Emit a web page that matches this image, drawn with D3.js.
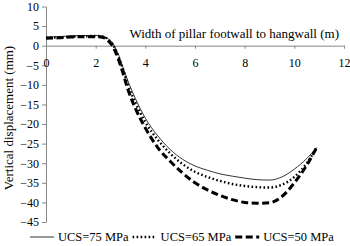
<!DOCTYPE html>
<html>
<head>
<meta charset="utf-8">
<script src="https://cdn.jsdelivr.net/npm/d3@7"></script>
<style>
  body { margin: 0; background: #fff; }
  svg text { font-family: "Liberation Serif", "Times New Roman", serif; fill: #000; }
</style>
</head>
<body>
<div id="chart"></div>
<script>
// width of pillar (m)
const xs = [0, 0.5, 1, 1.5, 2, 2.3, 2.5, 2.7, 2.9, 3.1, 3.3, 3.6, 4, 4.5, 5, 5.5, 6, 6.5, 7, 7.5, 8, 8.5, 9, 9.5, 10, 10.5, 10.9];
// vertical displacement (mm)
const ucs75 = [2.2, 2.3, 2.5, 2.6, 2.6, 2.4, 1.8, 0.5, -2, -5.5, -9, -13.5, -18.5, -23, -26.5, -29, -30.7, -31.8, -32.7, -33.3, -33.8, -34.2, -34.3, -33.5, -31.5, -28.8, -26];
const ucs65 = [2.0, 2.1, 2.3, 2.4, 2.5, 2.3, 1.6, 0.2, -2.5, -6, -10, -14.5, -19.5, -24, -27.5, -30.2, -32.2, -33.5, -34.5, -35.3, -35.8, -36.1, -36.2, -35.5, -33.5, -30, -26];
const ucs50 = [1.9, 2.0, 2.2, 2.3, 2.3, 2.1, 1.3, -0.3, -3.2, -7, -11.2, -16, -21, -26, -29.5, -32.5, -35, -36.8, -38.2, -39.3, -40, -40.2, -40.1, -38.5, -35, -30.5, -26];
const xTicks = [0, 2, 4, 6, 8, 10, 12];
const yTicks = [10, 5, 0, -5, -10, -15, -20, -25, -30, -35, -40, -45];
const seriesNames = ["UCS=75 MPa", "UCS=65 MPa", "UCS=50 MPa"];

const width = 350, height = 246;

const svg = d3.select("#chart").append("svg")
    .attr("width", width)
    .attr("height", height);

const x = d3.scaleLinear().domain([0, 12]).range([46, 344]);
const y = d3.scaleLinear().domain([-45, 10]).range([222, 6.5]);

// y axis
const yAxis = svg.append("g")
    .attr("transform", "translate(" + x(0) + ",0)")
    .call(d3.axisLeft(y).tickValues(yTicks).tickSize(4).tickPadding(3).tickSizeOuter(0));
yAxis.select(".domain").attr("stroke", "#888");
yAxis.selectAll(".tick line").attr("stroke", "#888");
yAxis.selectAll("text").style("font-size", "12px").attr("fill", "#000");

// x axis sits on y = 0
const xAxis = svg.append("g")
    .attr("transform", "translate(0," + y(0) + ")")
    .call(d3.axisBottom(x).tickValues(xTicks).tickSize(3).tickPadding(10).tickSizeOuter(0));
xAxis.select(".domain").attr("stroke", "#888");
xAxis.selectAll(".tick line").attr("stroke", "#888");
xAxis.selectAll("text").style("font-size", "12px").attr("fill", "#000");

// axis titles
svg.append("text")
    .attr("x", 339)
    .attr("y", 38)
    .attr("text-anchor", "end")
    .style("font-size", "13px")
    .text("Width of pillar footwall to hangwall (m)");

svg.append("text")
    .attr("transform", "translate(13,118) rotate(-90)")
    .attr("text-anchor", "middle")
    .style("font-size", "13px")
    .text("Vertical displacement (mm)");

// curves
const styles = [
    {data: ucs75, width: 1, dash: null, color: "#333"},
    {data: ucs65, width: 2.4, dash: "1.6,2.4", color: "#000"},
    {data: ucs50, width: 3, dash: "7,3.5", color: "#000"}
];

const line = d3.line()
    .x((d, i) => x(xs[i]))
    .y(d => y(d))
    .curve(d3.curveMonotoneX);

styles.forEach(s => {
    svg.append("path")
        .datum(s.data)
        .attr("fill", "none")
        .attr("stroke", s.color)
        .attr("stroke-width", s.width)
        .attr("stroke-dasharray", s.dash)
        .attr("d", line);
});

// legend
let lx = 30;
const ly = 241;
styles.forEach((s, i) => {
    svg.append("line")
        .attr("x1", lx).attr("x2", lx + 24)
        .attr("y1", ly - 4).attr("y2", ly - 4)
        .attr("stroke", s.color)
        .attr("stroke-width", s.width)
        .attr("stroke-dasharray", s.dash);
    const t = svg.append("text")
        .attr("x", lx + 28)
        .attr("y", ly)
        .style("font-size", "12.5px")
        .text(seriesNames[i]);
    lx = lx + 28 + t.node().getComputedTextLength() + 4;
});
</script>
</body>
</html>
